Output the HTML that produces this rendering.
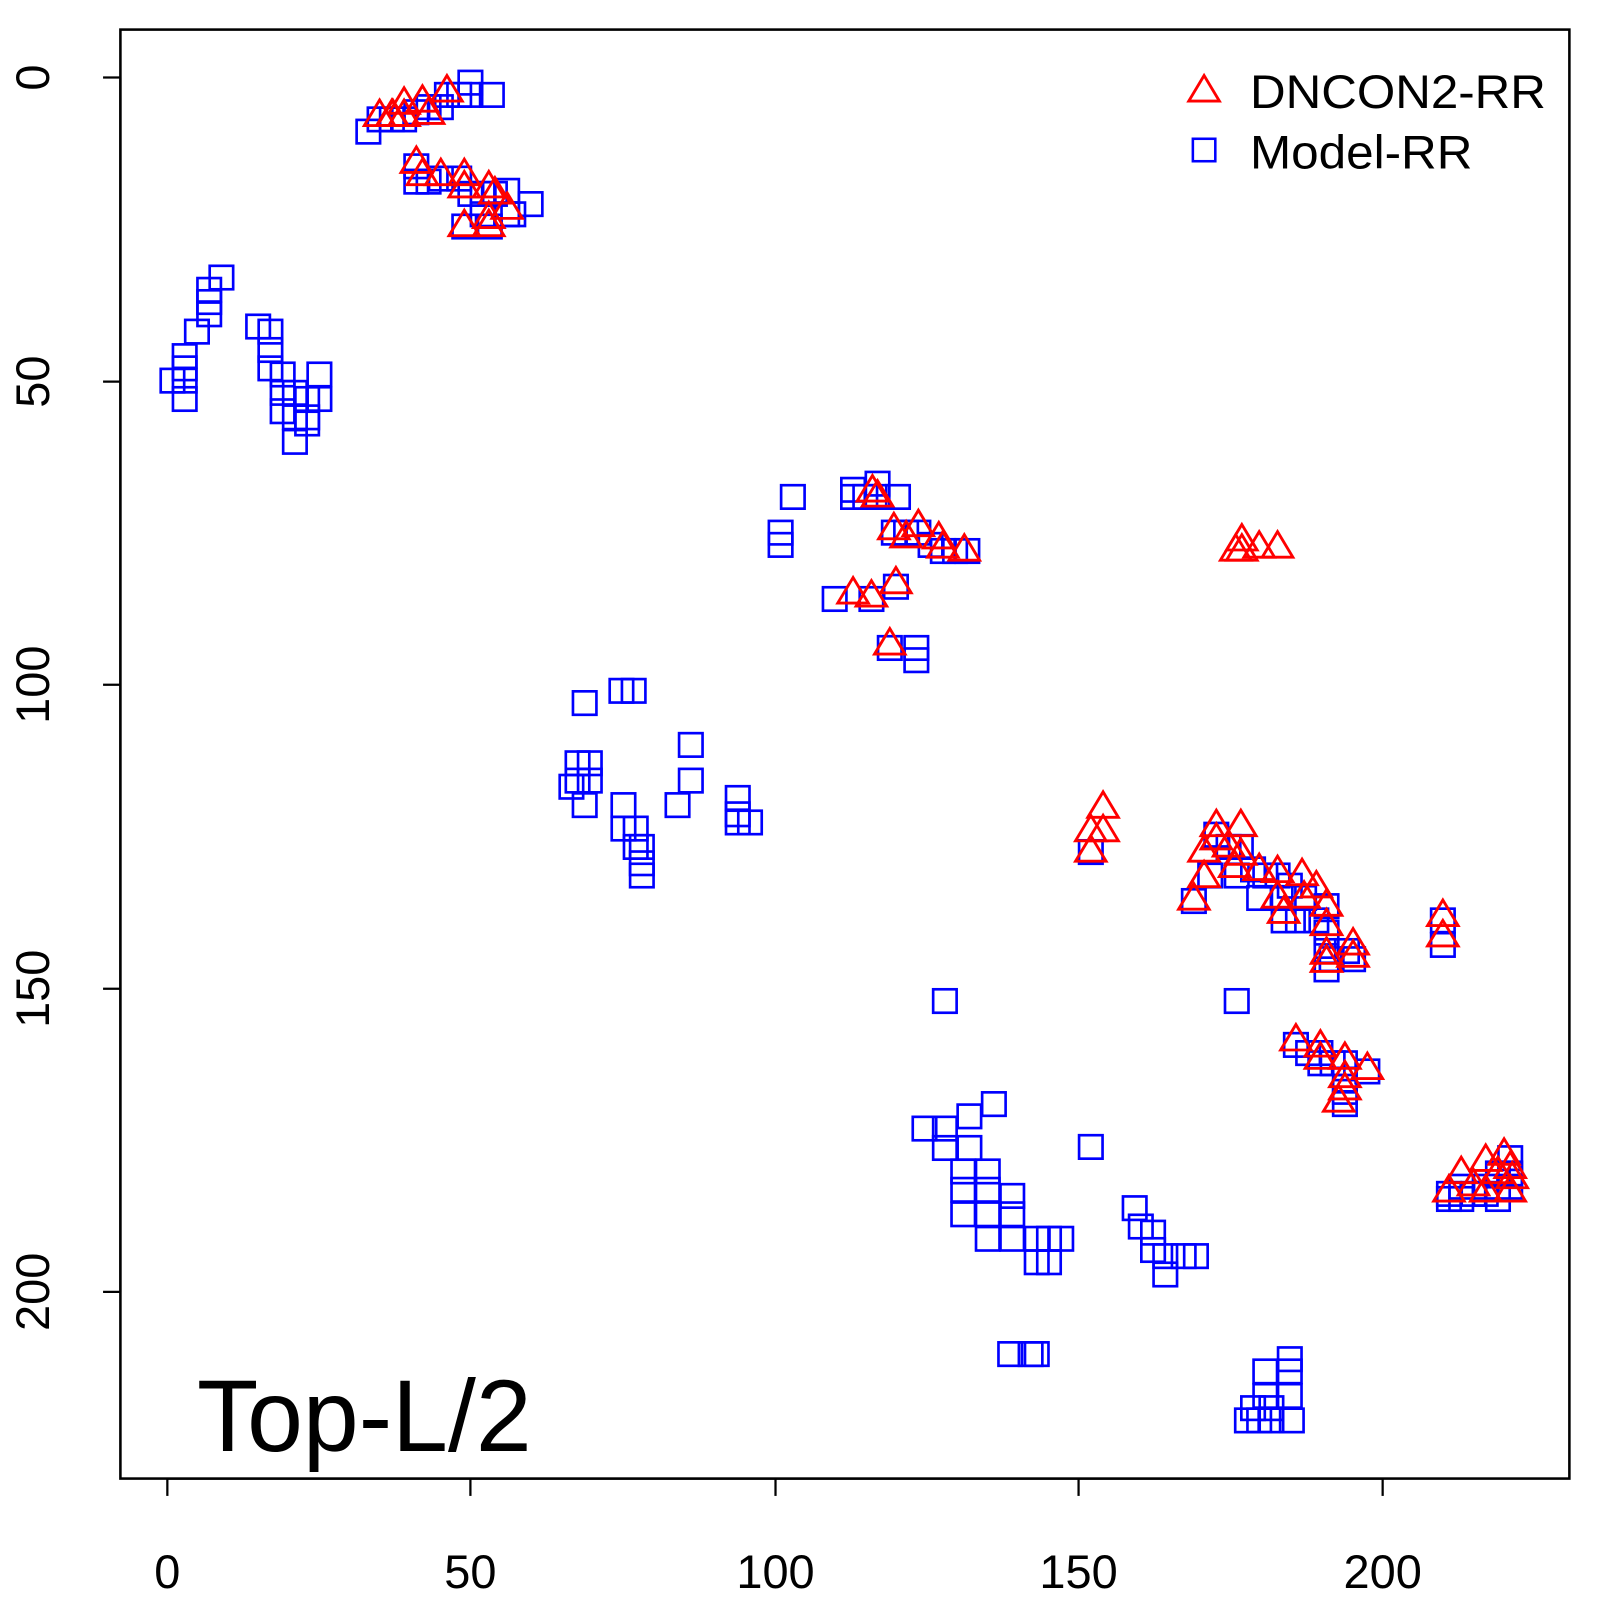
<!DOCTYPE html><html><head><style>body{margin:0;background:#fff}svg{display:block}</style></head><body>
<svg width="1600" height="1600" viewBox="0 0 1568 1568" xmlns="http://www.w3.org/2000/svg" font-family="Liberation Sans, sans-serif">
<rect x="118" y="29" width="1420" height="1420" fill="none" stroke="#000" stroke-width="2.5"/>
<g stroke="#000" stroke-width="2.2">
<line x1="164" y1="1449" x2="1355" y2="1449"/>
<line x1="164" y1="1449" x2="164" y2="1466"/><line x1="461" y1="1449" x2="461" y2="1466"/><line x1="760" y1="1449" x2="760" y2="1466"/><line x1="1057" y1="1449" x2="1057" y2="1466"/><line x1="1355" y1="1449" x2="1355" y2="1466"/>
<line x1="118" y1="76" x2="118" y2="1266"/>
<line x1="118" y1="76" x2="101" y2="76"/><line x1="118" y1="374" x2="101" y2="374"/><line x1="118" y1="671" x2="101" y2="671"/><line x1="118" y1="969" x2="101" y2="969"/><line x1="118" y1="1266" x2="101" y2="1266"/>
</g>
<g font-size="46" text-anchor="middle" fill="#000">
<text x="164" y="1556">0</text><text x="461" y="1556">50</text><text x="760" y="1556">100</text><text x="1057" y="1556">150</text><text x="1355" y="1556">200</text>
<text transform="translate(48,76) rotate(-90)">0</text><text transform="translate(48,374) rotate(-90)">50</text><text transform="translate(48,671) rotate(-90)">100</text><text transform="translate(48,969) rotate(-90)">150</text><text transform="translate(48,1266) rotate(-90)">200</text>
</g>
<text x="193" y="1422" font-size="100" fill="#000" textLength="328" lengthAdjust="spacingAndGlyphs">Top-L/2</text>
<text x="1225" y="106" font-size="46" textLength="290" lengthAdjust="spacingAndGlyphs">DNCON2-RR</text>
<text x="1225" y="165" font-size="46" textLength="218" lengthAdjust="spacingAndGlyphs">Model-RR</text>
<polygon points="1180,74 1165,99 1195,99" fill="none" stroke="#f00" stroke-width="2.8"/>
<rect x="1169" y="136" width="22" height="22" fill="none" stroke="#00f" stroke-width="2.5"/>
<g id="sq" fill="none" stroke="#00f" stroke-width="2.6"></g>
<g id="tr" fill="none" stroke="#f00" stroke-width="2.8"></g>
<script>
var S=[[361,129],[372,117],[384,117],[396,117],[408,110],[420,105],[432,105],[438,93],[450,93],[461,81],[461,93],[482,93],[408,163],[408,178],[420,178],[432,175],[450,175],[461,190],[473,190],[485,190],[497,187],[497,210],[503,210],[520,200],[455,222],[480,222],[473,210],
[217,272],[205,284],[205,296],[205,308],[193,325],[181,349],[181,361],[169,373],[181,373],[181,391],[253,320],[265,325],[265,343],[265,361],[277,367],[277,385],[277,403],[289,385],[289,409],[289,433],[301,391],[301,409],[301,415],[313,367],[313,391],
[777,487],[765,522],[765,534],[836,480],[860,474],[860,487],[880,487],[836,487],[848,487],[876,522],[900,522],[888,522],[912,534],[924,540],[936,540],[948,540],[818,587],[854,587],[878,575],[872,635],[898,635],[898,647],
[573,689],[609,677],[621,677],[677,730],[677,765],[664,789],[560,771],[566,748],[578,748],[566,765],[578,765],[573,789],[611,789],[611,812],[623,812],[623,830],[629,830],[629,846],[629,858],[723,782],[723,798],[735,806],[723,806],
[1069,835],[1192,818],[1204,830],[1216,830],[1170,883],[1186,858],[1212,858],[1228,852],[1240,858],[1252,858],[1234,880],[1258,880],[1264,868],[1278,880],[1258,902],[1272,902],[1290,902],[1300,888],[1300,914],[1300,932],[1300,950],[1320,932],[1326,940],[1305,940],[1212,981],[926,981],[1414,902],[1414,926],[1270,1024],[1282,1032],[1294,1032],[1294,1042],[1306,1042],[1318,1042],[1318,1058],[1318,1070],[1318,1082],[1340,1050],
[1420,1170],[1432,1163],[1444,1170],[1456,1163],[1468,1150],[1480,1135],[1480,1150],[1480,1163],[1456,1170],[1420,1175],[1432,1175],[1468,1175],
[906,1106],[926,1106],[926,1125],[950,1094],[974,1082],[950,1125],[944,1148],[968,1148],[944,1166],[968,1166],[992,1172],[944,1190],[968,1190],[968,1214],[992,1190],[992,1214],[1016,1214],[1028,1214],[1040,1214],[1016,1237],[1028,1237],[1069,1124],[1112,1184],[1118,1202],[1130,1208],[1130,1225],[1142,1231],[1160,1231],[1172,1231],[1142,1249],[990,1327],[1010,1327],[1016,1327],
[1222,1392],[1234,1392],[1246,1392],[1266,1392],[1240,1344],[1240,1368],[1264,1332],[1264,1344],[1264,1368],[1246,1380],[1228,1380]];
var T=[[372,114],[384,114],[396,102],[396,114],[414,100],[420,112],[438,90],[408,160],[414,172],[432,172],[455,172],[455,184],[479,184],[485,190],[497,205],[479,214],[455,222],[479,222],[385,114],
[855,482],[860,487],[876,519],[900,516],[888,527],[920,528],[924,537],[945,540],[836,582],[854,585],[878,572],[872,632],[1217,530],[1217,540],[1234,537],[1252,537],[1211,540],
[1081,792],[1081,815],[1069,815],[1069,835],[1192,810],[1192,823],[1180,835],[1216,810],[1204,830],[1216,838],[1180,860],[1170,882],[1210,850],[1234,853],[1252,855],[1276,858],[1252,880],[1258,895],[1278,880],[1290,870],[1300,888],[1300,907],[1300,935],[1300,943],[1326,926],[1326,938],[1414,898],[1414,918],[1270,1020],[1294,1026],[1294,1038],[1318,1038],[1318,1056],[1318,1068],[1312,1080],[1340,1048],
[1420,1168],[1432,1150],[1456,1138],[1468,1150],[1474,1132],[1480,1145],[1480,1168],[1444,1162],[1456,1168],[1482,1155]];
var ns="http://www.w3.org/2000/svg",gs=document.getElementById("sq"),gt=document.getElementById("tr");
S.forEach(function(p){var r=document.createElementNS(ns,"rect");r.setAttribute("x",p[0]-11.5);r.setAttribute("y",p[1]-11.5);r.setAttribute("width",23);r.setAttribute("height",23);gs.appendChild(r);});
T.forEach(function(p){var q=document.createElementNS(ns,"polygon");var x=p[0],y=p[1];q.setAttribute("points",x+","+(y-16)+" "+(x-15)+","+(y+9)+" "+(x+15)+","+(y+9));gt.appendChild(q);});
</script>
</svg></body></html>
